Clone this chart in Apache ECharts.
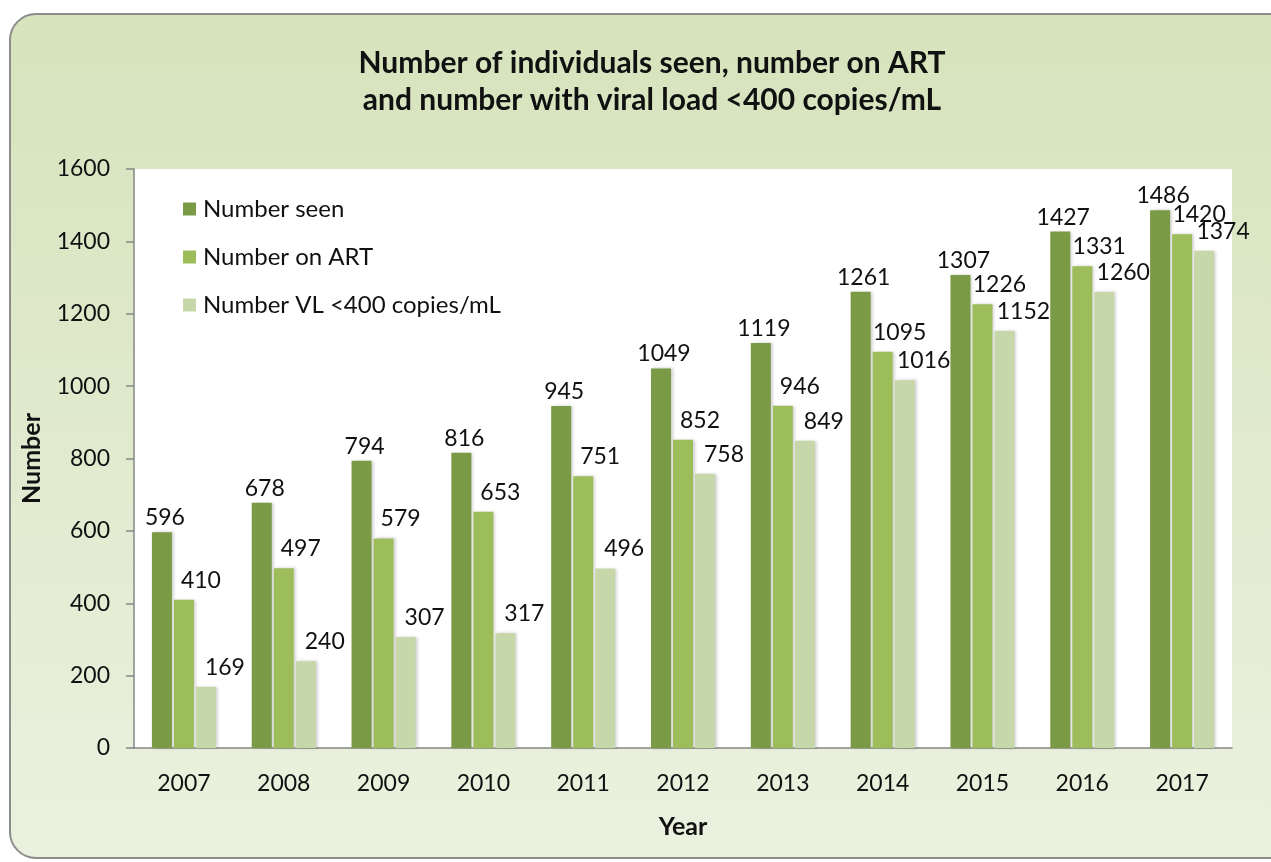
<!DOCTYPE html>
<html><head><meta charset="utf-8">
<script src="https://cdn.jsdelivr.net/npm/echarts@6/dist/echarts.min.js"></script>
<style>html,body{margin:0;padding:0;background:#fff}#c{width:1271px;height:862px}</style>
</head><body><div id="c"></div>
<script>
const years = ['2007','2008','2009','2010','2011','2012','2013','2014','2015','2016','2017'];
const numberSeen = [596,678,794,816,945,1049,1119,1261,1307,1427,1486];
const numberOnART = [410,497,579,653,751,852,946,1095,1226,1331,1420];
const numberVL = [169,240,307,317,496,758,849,1016,1152,1260,1374];
const seriesNames = ['Number seen','Number on ART','Number VL <400 copies/mL'];
const colors = ['#7a9a45','#9dbd5a','#c6d8a9'];
const FONT = 'Lato, "Open Sans", sans-serif';

const chart = echarts.init(document.getElementById('c'));
const labelOffsets = [[3,-1],[17,-6],[19,-6]];
const mk = (name, data, i) => ({
  name, type:'bar', data, barWidth:20, barGap:'10%',
  itemStyle:{color:colors[i], shadowColor:'rgba(0,0,0,0.2)', shadowBlur:3, shadowOffsetX:2},
  label:{show:true, position:'top', offset:labelOffsets[i], color:'#111', fontSize:23, fontFamily:FONT, distance:2}
});
chart.setOption({
  backgroundColor:'#fff',
  color:colors,
  graphic:[{
    type:'rect', z:-10, silent:true,
    shape:{x:10, y:14, width:1300, height:844, r:26},
    style:{
      fill:new echarts.graphic.LinearGradient(0,0,0,1,[{offset:0,color:'#d6e3bc'},{offset:1,color:'#ebf1df'}]),
      stroke:'#8c8c8c', lineWidth:2
    }
  }],
  title:{
    text:'Number of individuals seen, number on ART\nand number with viral load <400 copies/mL',
    left:647, top:40, textAlign:'center',
    textStyle:{fontFamily:FONT, fontWeight:'bold', fontSize:30, lineHeight:37, color:'#111'}
  },
  legend:{
    orient:'vertical', left:178, top:192, itemGap:24, itemWidth:13, itemHeight:13,
    icon:'rect',
    textStyle:{fontFamily:FONT, fontSize:24, color:'#111', padding:[0,0,0,2]},
    data:seriesNames
  },
  grid:{left:134, top:169, right:39, bottom:114, show:true, backgroundColor:'#fff', borderWidth:0},
  xAxis:{
    type:'category', data:years, name:'Year', nameLocation:'middle', nameGap:66,
    nameTextStyle:{fontFamily:FONT, fontWeight:'bold', fontSize:25, color:'#111'},
    axisLine:{lineStyle:{color:'#868686', width:1.5}},
    axisTick:{length:9, lineStyle:{color:'#868686', width:1.5}},
    axisLabel:{fontFamily:FONT, fontSize:23, color:'#111', margin:24}
  },
  yAxis:{
    type:'value', min:0, max:1600, interval:200, name:'Number', nameLocation:'middle', nameGap:90,
    nameTextStyle:{fontFamily:FONT, fontWeight:'bold', fontSize:25, color:'#111'},
    axisLine:{show:true, lineStyle:{color:'#868686', width:1.5}},
    axisTick:{show:true, length:8, lineStyle:{color:'#868686', width:1.5}},
    splitLine:{show:false},
    axisLabel:{fontFamily:FONT, fontSize:23, color:'#111', margin:24, formatter:v=>String(v)}
  },
  series:[mk(seriesNames[0],numberSeen,0), mk(seriesNames[1],numberOnART,1), mk(seriesNames[2],numberVL,2)]
});
</script></body></html>
